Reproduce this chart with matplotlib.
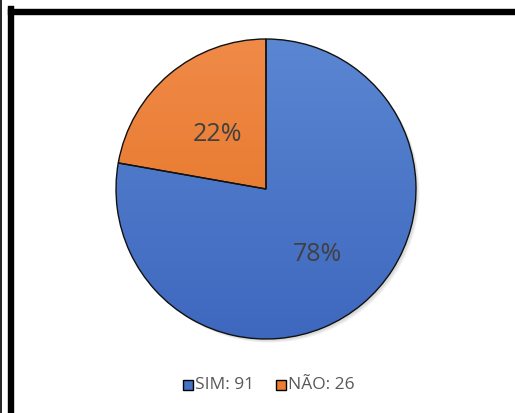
import numpy as np
import matplotlib
matplotlib.use("Agg")
import matplotlib.pyplot as plt
from matplotlib.colors import LinearSegmentedColormap
from matplotlib.patches import Circle, Rectangle

categories = ["SIM", "NÃO"]
counts = [91, 26]
legend_colors = ["#4472C4", "#ED7D31"]
top_colors = ["#5A86D2", "#F08A48"]
bottom_colors = ["#3E68BE", "#E2701E"]

plt.rcParams["font.family"] = ["Open Sans", "DejaVu Sans"]

fig = plt.figure(figsize=(5.15, 4.13), dpi=100)
fig.patch.set_facecolor("white")

# frame lines
fig.add_artist(plt.Line2D([0.001, 0.001], [0, 1], transform=fig.transFigure, color="black", lw=1.2))
fig.add_artist(plt.Line2D([11 / 515, 11 / 515], [0, 1 - 9 / 413], transform=fig.transFigure,
                          color="black", lw=4.6, solid_capstyle="projecting"))
fig.add_artist(plt.Line2D([11 / 515, 1], [1 - 12 / 413, 1 - 12 / 413], transform=fig.transFigure,
                          color="black", lw=4.6, solid_capstyle="projecting"))

ax = fig.add_axes([(266 - 150) / 515, 1 - (189 + 150) / 413, 300 / 515, 300 / 413])
ax.axis("off")

# soft shadow
for k in range(3):
    ax.add_patch(Circle((0.012 + 0.006 * k, -0.012 - 0.006 * k), 1.0, color="black",
                        alpha=0.05, lw=0, zorder=0, clip_on=False))

wedges, texts, autotexts = ax.pie(
    counts, startangle=90, counterclock=False, radius=1.0,
    colors=top_colors, autopct="%1.0f%%", pctdistance=0.52,
    wedgeprops=dict(edgecolor="#111111", linewidth=1.0, clip_on=False),
    textprops=dict(color="#404040", fontsize=18),
)
ax.set_xlim(-1, 1)
ax.set_ylim(-1, 1)
ax.set_aspect("equal")

# vertical gradient fill inside each wedge
for w, c0, c1 in zip(wedges, top_colors, bottom_colors):
    cmap = LinearSegmentedColormap.from_list("g", [c1, c0])
    grad = np.linspace(0, 1, 256).reshape(-1, 1)
    im = ax.imshow(grad, extent=[-1, 1, -1, 1], origin="lower", cmap=cmap,
                   zorder=1.5, aspect="auto", clip_on=True)
    im.set_clip_path(w)
    w.set_facecolor("none")
    w.set_zorder(2)
for t in autotexts:
    x, y = t.get_position()
    t.set_position((x + 0.01, y - 0.035))
    t.set_zorder(3)
ax.set_xlim(-1, 1)
ax.set_ylim(-1, 1)

# legend
leg_y = 1 - 385 / 413
entries = [(183 / 515, f"{categories[0]}: {counts[0]}", legend_colors[0]),
           (276 / 515, f"{categories[1]}: {counts[1]}", legend_colors[1])]
for x0, label, col in entries:
    fig.add_artist(Rectangle((x0, leg_y - 5 / 413), 10 / 515, 10 / 413, transform=fig.transFigure,
                             facecolor=col, edgecolor="black", lw=1.0))
    fig.text(x0 + 12 / 515, leg_y, label, color="#595959", fontsize=12.5, va="center", ha="left")

fig.savefig("out.png", dpi=100, facecolor="white")
